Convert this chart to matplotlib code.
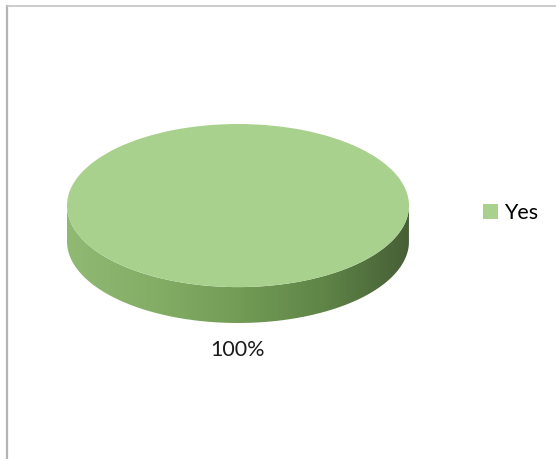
import matplotlib
matplotlib.use("Agg")
import matplotlib.pyplot as plt
import numpy as np
from matplotlib.path import Path
from matplotlib.patches import PathPatch
from matplotlib.lines import Line2D
from matplotlib.colors import LinearSegmentedColormap

plt.rcParams['font.family'] = ['Lato', 'DejaVu Sans']

labels = ['Yes']
values = [100]
colors = ['#a9d18e']

W, H = 556, 459
fig = plt.figure(figsize=(W / 100, H / 100), dpi=100)
fig.patch.set_facecolor('white')

# thin frame on the left and top edge
fig.add_artist(Line2D([7 / W, 7 / W], [0, 1 - 6 / H], color='#b3b3b3', lw=1.6))
fig.add_artist(Line2D([7 / W, 1], [1 - 6 / H, 1 - 6 / H], color='#c4c4c4', lw=1.2))

# axes placed over the pie: x in [-1, 1], y in [-1 - depth, 1]
depth = 0.44
left, right, top, bottom = 67, 409, 124, 323
ax = fig.add_axes([left / W, 1 - bottom / H, (right - left) / W, (bottom - top) / H])

# side wall of the disc, shaded with a horizontal gradient
t = np.linspace(np.pi, 2 * np.pi, 200)
xs = np.concatenate([np.cos(t), np.cos(t[::-1])])
ys = np.concatenate([np.sin(t), np.sin(t[::-1]) - depth])
side = Path(np.column_stack([xs, ys]))
clip = PathPatch(side, facecolor='none', edgecolor='none')
ax.add_patch(clip)
shade = LinearSegmentedColormap.from_list(
    'side', ['#90ba73', '#84ad66', '#739c56', '#5f8547', '#475f36'])
grad = np.linspace(0, 1, 256).reshape(1, -1)
img = ax.imshow(grad, cmap=shade, extent=[-1, 1, -1 - depth, 0],
                aspect='auto', interpolation='bicubic', zorder=1)
img.set_clip_path(clip)

# top face of the disc
wedges, _ = ax.pie(values, colors=colors, radius=1, startangle=90,
                   counterclock=False, wedgeprops=dict(linewidth=0, zorder=2))
ax.set_aspect('auto')
ax.set_xlim(-1, 1)
ax.set_ylim(-1 - depth, 1)
ax.axis('off')

share = values[0] / sum(values) * 100
fig.text(238 / W, 1 - 350 / H, f'{share:.0f}%', ha='center', va='center',
         fontsize=15.5, color='#1a1a1a')

fig.legend(wedges, labels, loc='center left', bbox_to_anchor=(474 / W, 1 - 213 / H),
           frameon=False, fontsize=15.5, handlelength=0.7, handleheight=0.7,
           handletextpad=0.3, borderaxespad=0)

fig.savefig('out.png', dpi=100)
